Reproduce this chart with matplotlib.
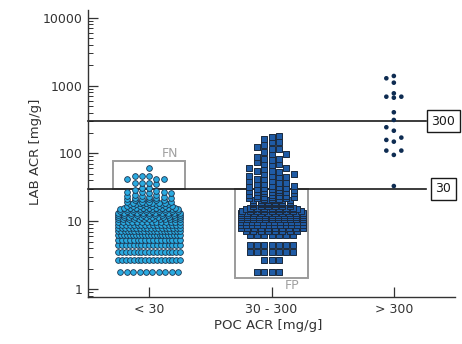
import numpy as np
import matplotlib
matplotlib.use("Agg")
import matplotlib.pyplot as plt
from matplotlib.patches import Rectangle
from matplotlib.ticker import FixedLocator, FixedFormatter, LogLocator, NullFormatter

# ---------------- data ----------------
categories = ["< 30", "30 - 300", "> 300"]
MMOL_TO_MG = 8.84  # mg/mmol -> mg/g

# group "< 30": LAB ACR in tenths of mg/mmol, and counts
lt30_tenths = [2, 3, 4, 5, 6, 7, 8, 9, 10, 11, 12, 13, 14, 15, 16, 17, 18, 19, 20,
               21, 22, 23, 24, 25, 26, 27, 28, 29, 30, 31, 32, 33, 35, 40, 42,
               47, 53, 68]
lt30_counts = [10, 17, 17, 17, 17, 22, 20, 18, 17, 14, 13, 12, 11, 11, 10, 10, 9, 8, 7,
               6, 4, 3, 3, 3, 2, 2, 2, 2, 2, 1, 1, 1, 2, 1, 3,
               3, 3, 1]

# group "30 - 300"
mid_tenths = [2, 3, 4, 5, 7, 8, 9, 10, 11, 12, 13, 14, 15, 16, 17, 18, 19, 20, 21,
              22, 23, 24, 25, 26, 27, 28, 29, 30, 31, 32, 33, 34, 35, 36, 38, 40,
              42, 44, 48, 50, 53, 56, 60, 63, 67, 70, 75, 80, 85, 90, 95, 100, 110,
              120, 130, 140, 150, 165, 185, 200, 205]
mid_counts = [4, 3, 7, 7, 7, 8, 10, 12, 12, 11, 11, 11, 10, 9, 8, 7, 6, 6, 6,
              6, 6, 3, 3, 3, 3, 2, 2, 2, 2, 2, 2, 2, 2, 2, 2, 2,
              2, 2, 2, 2, 2, 2, 1, 2, 1, 2, 1, 2, 1, 1, 2, 1, 2,
              1, 2, 1, 1, 2, 1, 1, 1]

# group "> 300": LAB ACR in mg/g
gt300_vals = [33, 95, 110, 110, 149, 158, 171, 216, 243, 311, 404,
              663, 686, 686, 769, 1104, 1282, 1386]

cutoffs = [30, 300]
cutoff_labels = ["30", "300"]
ytick_vals = [1, 10, 100, 1000, 10000]
ytick_labels = ["1", "10", "100", "1000", "10000"]

# ---------------- figure ----------------
plt.rcParams['font.family'] = ['DejaVu Sans']
fig = plt.figure(figsize=(4.62, 3.44), dpi=100)
ax = fig.add_axes([88 / 462, 47 / 344, 367 / 462, 287 / 344])
ax.set_yscale('log')
ax.set_xlim(-0.5, 2.5)
ax.set_ylim(0.762, 13030)

fig.canvas.draw()
to_disp = ax.transData
px_per_x = to_disp.transform((1, 1))[0] - to_disp.transform((0, 1))[0]


def ypx(v):
    return to_disp.transform((0, v))[1]


def layout(uniq, counts, d_row, wmax, dense_n, col_w, dv, sparse_w):
    """Dot-plot layout in pixel space: dense rows are compressed, sparse points
    stack into columns. Returns values and x offsets in data units."""
    kmax = int(np.floor(sparse_w / 2 / col_w + 1e-6))
    order = [0]
    for k in range(1, kmax + 1):
        order += [-k, k]
    slots = np.array(order, float) * col_w
    tops = np.full(len(slots), -1e9)
    px, vals = [], []
    for u, n in zip(uniq, counts):
        y = ypx(u)
        if n >= dense_n:
            s = min(d_row, wmax / max(n - 1, 1))
            xs = (np.arange(n) - (n - 1) / 2) * s
            for x in xs:
                px.append(x); vals.append(u)
            for i, sx in enumerate(slots):
                if np.any(np.abs(xs - sx) < col_w * 0.6):
                    tops[i] = max(tops[i], y)
        else:
            for _ in range(n):
                free = [i for i in range(len(slots)) if y - tops[i] >= dv]
                if free:
                    i = free[0]
                else:
                    i = int(np.argmin(tops))
                tops[i] = y
                px.append(slots[i]); vals.append(u)
    return np.array(vals), np.array(px) / px_per_x


lt30_vals = np.array(lt30_tenths) / 10 * MMOL_TO_MG
mid_vals = np.array(mid_tenths) / 10 * MMOL_TO_MG

v0, x0 = layout(lt30_vals, lt30_counts, d_row=6.4, wmax=62, dense_n=6, col_w=7.3,
                dv=4.2, sparse_w=46)
v1, x1 = layout(mid_vals, mid_counts, d_row=7.3, wmax=62, dense_n=6, col_w=7.4,
                dv=4.7, sparse_w=46)
g_uniq, g_counts = np.unique(gt300_vals, return_counts=True)
v2, x2 = layout(g_uniq, g_counts, d_row=6, wmax=16, dense_n=6, col_w=7.5, dv=4.5,
                sparse_w=16)

# boxes (FN / FP)
ax.add_patch(Rectangle((-0.295, 30), 0.59, 77 - 30, fill=False, edgecolor='#9b9b9b',
                       lw=1.4, zorder=1))
ax.add_patch(Rectangle((1 - 0.30, 1.45), 0.595, 30 - 1.45, fill=False, edgecolor='#9b9b9b',
                       lw=1.4, zorder=1))
ax.text(0.17, 98, "FN", color='#a0a0a0', fontsize=9, ha='center', va='center')
ax.text(1.165, 1.13, "FP", color='#a0a0a0', fontsize=9, ha='center', va='center')

# cutoff lines
for c, lab in zip(cutoffs, cutoff_labels):
    ax.plot([-0.5, 2.262], [c, c], color='#1a1a1a', lw=1.2, zorder=2, clip_on=False)
    ax.text(2.262 + 0.143, c, lab, fontsize=9, ha='center', va='center', color='#1a1a1a',
            bbox=dict(boxstyle='square,pad=0.38', fc='white', ec='#1a1a1a', lw=1.0),
            clip_on=False, zorder=3)

ax.scatter(0 + x0, v0, s=17, marker='o', facecolor='#2aaae0', edgecolor='#1c3550',
           linewidths=0.6, zorder=4)
ax.scatter(1 + x1, v1, s=19, marker='s', facecolor='#1f5ba5', edgecolor='#1b2a3e',
           linewidths=0.7, zorder=4)
ax.scatter(2 + x2, v2, s=11, marker='o', facecolor='#0e2c52', edgecolor='none', zorder=4)

# axes styling
for sp in ['top', 'right']:
    ax.spines[sp].set_visible(False)
for sp in ['left', 'bottom']:
    ax.spines[sp].set_color('#333333')
    ax.spines[sp].set_linewidth(1.0)

ax.set_xticks([0, 1, 2])
ax.set_xticklabels(categories)
ax.yaxis.set_major_locator(FixedLocator(ytick_vals))
ax.yaxis.set_major_formatter(FixedFormatter(ytick_labels))
ax.yaxis.set_minor_locator(LogLocator(base=10, subs=np.arange(2, 10), numticks=20))
ax.yaxis.set_minor_formatter(NullFormatter())
ax.tick_params(axis='both', which='major', direction='in', length=7, width=0.9,
               colors='#333333', labelsize=9, labelcolor='#333333')
ax.tick_params(axis='y', which='major', pad=4)
ax.tick_params(axis='x', which='major', pad=4)
ax.tick_params(axis='y', which='minor', direction='in', length=3.5, width=0.7, colors='#333333')

ax.set_xlabel("POC ACR [mg/g]", fontsize=9.5, color='#333333')
ax.set_ylabel("LAB ACR [mg/g]", fontsize=9.5, color='#333333')
ax.xaxis.set_label_coords(0.49, -0.075)
ax.yaxis.set_label_coords(-0.125, 0.505)

fig.savefig("out.png", dpi=100)
